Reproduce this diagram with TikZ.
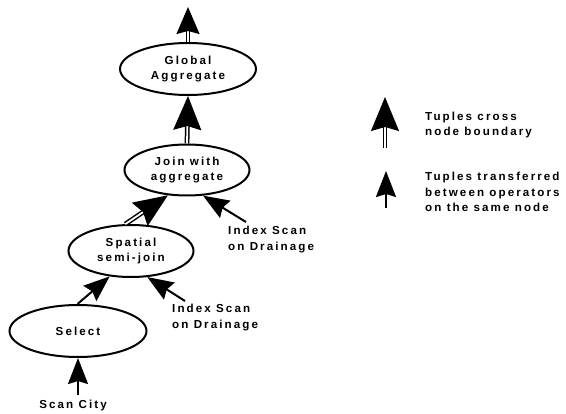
\documentclass[tikz,border=0pt]{standalone}
\usepackage{fontspec}
\setmainfont{Liberation Sans}[LetterSpace=18]
\usetikzlibrary{arrows.meta,shapes.geometric}

\begin{document}
\begin{tikzpicture}[x=1pt,y=-1pt]
\tikzstyle{every node}+=[inner sep=0pt, font=\bfseries\fontsize{11.6}{15.5}\selectfont]
\tikzstyle{op}=[draw, ellipse, line width=2pt, align=center]
\tikzstyle{note}=[align=left]
\tikzstyle{crossarrow}=[double, line width=1.5pt, double distance=1.8pt, -{Stealth[length=34pt,width=28pt,inset=4pt]}]
\tikzstyle{localarrow}=[line width=2pt, -{Stealth[length=26pt,width=20pt,inset=3pt]}]
\useasboundingbox (0,0) rectangle (566,414);
% operators
\node [op, minimum width=136pt, minimum height=52pt] (global) at (188,69) {Global\\Aggregate};
\node [op, minimum width=125pt, minimum height=51pt] (join) at (187,170) {Join with\\aggregate};
\node [op, minimum width=125pt, minimum height=52pt] (spatial) at (131,251) {Spatial\\semi-join};
\node [op, minimum width=137pt, minimum height=52pt] (select) at (78,331) {Select};
% inputs
\node [note, anchor=north west] (drainjoin) at (228,226) {Index Scan\\on Drainage};
\node [note, anchor=north west] (drainspatial) at (172,304) {Index Scan\\on Drainage};
\node (scancity) at (73,406) {Scan City};
\coordinate (out) at (188,7);
\coordinate (drainjointail) at (246,222);
\coordinate (drainspatialtail) at (185,301);
\coordinate (scancitytail) at (78,395);
% tuple flow
\draw [crossarrow, -{Stealth[length=27pt,width=23pt,inset=3pt]}] (global.north) -- (out);
\draw [crossarrow] (join.north) -- (global.south);
\draw [crossarrow] (spatial.102) -- (join.233);
\draw [localarrow] (drainjointail) -- (join.302);
\draw [localarrow] (select.91) -- (spatial.230);
\draw [localarrow] (drainspatialtail) -- (spatial.302);
\draw [localarrow] (scancitytail) -- (select.south);
% key
\coordinate (keycrosstail) at (385,148);
\coordinate (keycrosstip) at (385,97);
\coordinate (keylocaltail) at (386,208);
\coordinate (keylocaltip) at (386,171);
\draw [crossarrow] (keycrosstail) -- (keycrosstip);
\draw [localarrow] (keylocaltail) -- (keylocaltip);
\node [note, anchor=west] (keycross) at (425,125) {Tuples cross\\node boundary};
\node [note, anchor=west] (keylocal) at (425,192) {Tuples transferred\\between operators\\on the same node};
\end{tikzpicture}
\end{document}
